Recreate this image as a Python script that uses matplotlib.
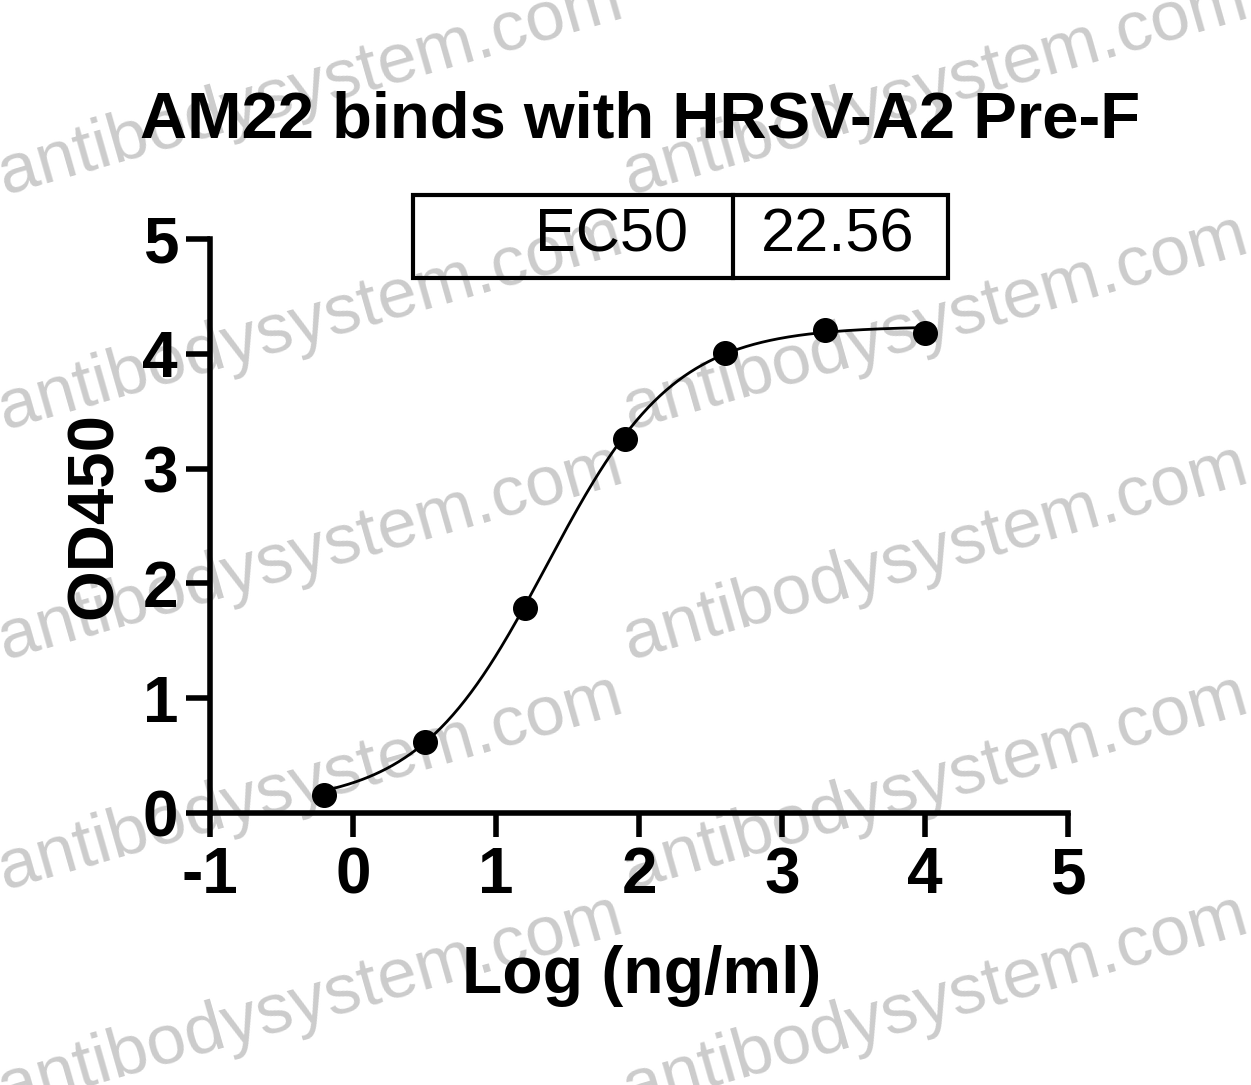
import numpy as np
import matplotlib
matplotlib.use("Agg")
import matplotlib.pyplot as plt
from matplotlib.patches import Rectangle

plt.rcParams['font.family'] = ['Liberation Sans', 'DejaVu Sans']
plt.rcParams['axes.unicode_minus'] = False

# data
log_conc = [-0.2, 0.5, 1.2, 1.9, 2.6, 3.3, 4.0]
od450 = [0.16, 0.62, 1.79, 3.26, 4.01, 4.21, 4.18]

# 4PL fit parameters (EC50 from the table)
ec50 = 22.56
bottom = 0.07
top = 4.24
hill = 0.97

x_ticks = [-1, 0, 1, 2, 3, 4, 5]
y_ticks = [0, 1, 2, 3, 4, 5]

W, H = 1251, 1085
fig = plt.figure(figsize=(W / 100, H / 100), dpi=100)


def px(x, y):
    return x / W, 1 - y / H


# watermark behind everything
for wy in [195, 430, 660, 890, 1110]:
    for wx in [5, 630]:
        fig.text(*px(wx, wy), "antibodysystem.com", fontsize=51, color='#cccccc',
                 rotation=16, rotation_mode='anchor', ha='left', va='baseline', zorder=-5)

ax = fig.add_axes([210 / W, 1 - 813 / H, (1068 - 210) / W, (813 - 239) / H])
ax.patch.set_visible(False)

# fitted curve
xs = np.linspace(min(log_conc), max(log_conc), 300)
ys = bottom + (top - bottom) / (1 + 10 ** ((np.log10(ec50) - xs) * hill))
ax.plot(xs, ys, color='black', lw=2, zorder=3)
ax.plot(log_conc, od450, 'o', color='black', markersize=17, clip_on=False, zorder=4)

ax.set_xlim(-1, 5)
ax.set_ylim(0, 5)
ax.set_xticks(x_ticks)
ax.set_yticks(y_ticks)
for s in ['top', 'right']:
    ax.spines[s].set_visible(False)
for s in ['left', 'bottom']:
    ax.spines[s].set_linewidth(4)
ax.tick_params(axis='both', width=4, length=17, labelsize=46)
ax.tick_params(axis='x', pad=7)
ax.tick_params(axis='y', pad=6)
for lab in ax.get_xticklabels() + ax.get_yticklabels():
    lab.set_fontweight('bold')

# labels and title
fig.text(*px(640, 137), "AM22 binds with HRSV-A2 Pre-F", fontsize=47, fontweight='bold',
         ha='center', va='baseline')
fig.text(*px(642, 993), "Log (ng/ml)", fontsize=47.5, fontweight='bold',
         ha='center', va='baseline')
fig.text(*px(112, 516), "OD450", fontsize=47, fontweight='bold', rotation=90,
         ha='center', va='baseline', rotation_mode='anchor')

# EC50 table box
box_l, box_r, box_t, box_b, div = 413, 948, 195, 278, 733
fig.patches.append(Rectangle(px(box_l, box_b), (box_r - box_l) / W, (box_b - box_t) / H,
                             transform=fig.transFigure, fill=False, lw=3, ec='black'))
fig.lines.append(plt.Line2D([div / W, div / W], [1 - box_t / H, 1 - box_b / H],
                            transform=fig.transFigure, lw=3, color='black'))
fig.text(*px(688, 252), "EC50", fontsize=44, ha='right', va='baseline')
fig.text(*px(838, 252), "22.56", fontsize=44, ha='center', va='baseline')

fig.savefig("out.png", dpi=100)
